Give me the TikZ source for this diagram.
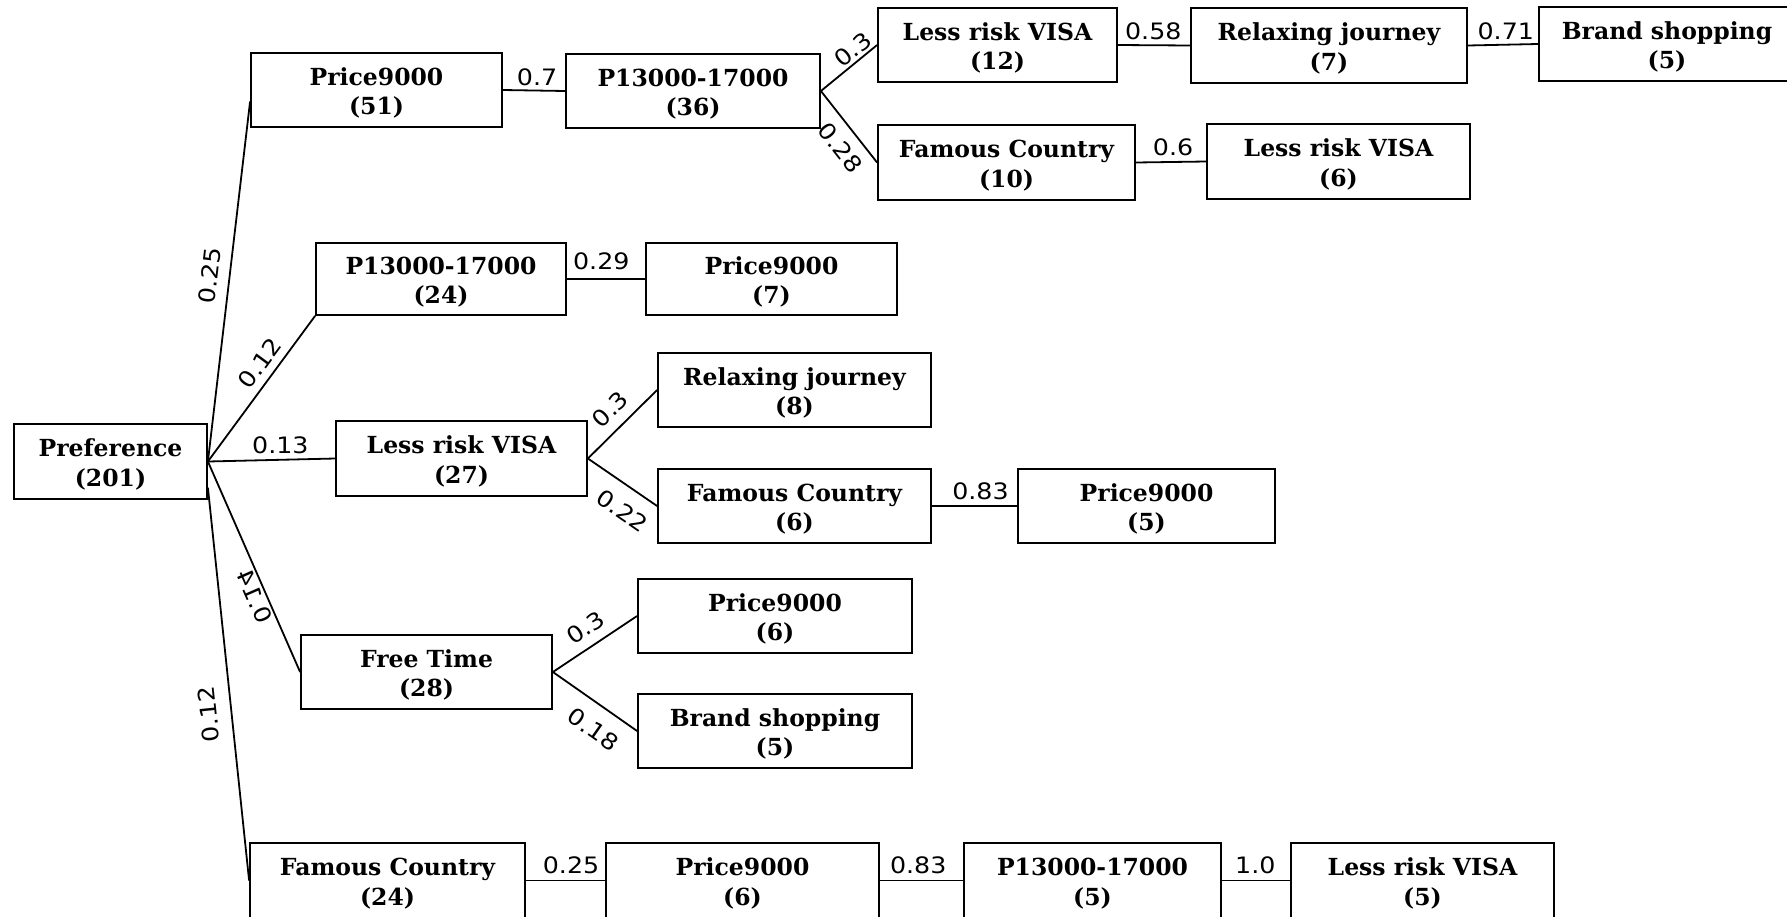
\documentclass[tikz,border=0pt]{standalone}
\usepackage{fontspec}
\usepackage{graphicx}
\newfontfamily\boxfont{DejaVu Serif}
\newfontfamily\lblfont{DejaVu Sans}[FakeStretch=1.12]
\usetikzlibrary{calc}
\begin{document}
\begin{tikzpicture}[x=1pt,y=-1pt,
  box/.style={draw, line width=1.8pt, align=center, inner sep=0pt,
    text height=49pt, text depth=0pt,
    font={\boxfont\bfseries\fontsize{23.5}{29.5}\selectfont}},
  conn/.style={line width=1.8pt},
  lbl/.style={font={\lblfont\fontsize{22.6}{24}\selectfont}, inner xsep=1pt, inner ysep=#1},
  lbl/.default=4pt
]
\fill[white] (0,0) rectangle (1787,916);
\useasboundingbox (0,0) rectangle (1787,916);

% boxes
\node[box, minimum width=193pt, minimum height=75pt] (pref) at (110.5,461.5) {Preference\\(201)};
\node[box, minimum width=251pt, minimum height=74pt] (p51) at (376.5,90) {Price9000\\(51)};
\node[box, minimum width=254pt, minimum height=74pt] (p36) at (693,91) {P13000-17000\\(36)};
\node[box, minimum width=239pt, minimum height=74pt] (v12) at (997.5,45) {Less risk VISA\\(12)};
\node[box, minimum width=276pt, minimum height=75pt] (r7) at (1329,45.5) {Relaxing journey\\(7)};
\node[box, minimum width=256pt, minimum height=74pt] (b5t) at (1667,44) {Brand shopping\\(5)};
\node[box, minimum width=257pt, minimum height=75pt] (fc10) at (1006.5,162.5) {Famous Country\\(10)};
\node[box, minimum width=263pt, minimum height=75pt] (v6) at (1338.5,161.5) {Less risk VISA\\(6)};
\node[box, minimum width=250pt, minimum height=72pt] (p24) at (441,279) {P13000-17000\\(24)};
\node[box, minimum width=251pt, minimum height=72pt] (p7) at (771.5,279) {Price9000\\(7)};
\node[box, minimum width=273pt, minimum height=74pt] (r8) at (794.5,390) {Relaxing journey\\(8)};
\node[box, minimum width=251pt, minimum height=75pt] (v27) at (461.5,458.5) {Less risk VISA\\(27)};
\node[box, minimum width=273pt, minimum height=74pt] (fc6) at (794.5,506) {Famous Country\\(6)};
\node[box, minimum width=257pt, minimum height=74pt] (p5) at (1146.5,506) {Price9000\\(5)};
\node[box, minimum width=251pt, minimum height=74pt] (ft) at (426.5,672) {Free Time\\(28)};
\node[box, minimum width=274pt, minimum height=74pt] (p6a) at (775,616) {Price9000\\(6)};
\node[box, minimum width=274pt, minimum height=74pt] (b5) at (775,731) {Brand shopping\\(5)};
\node[box, minimum width=275pt, minimum height=75pt] (fc24) at (387.5,880.5) {Famous Country\\(24)};
\node[box, minimum width=273pt, minimum height=75pt] (p6b) at (742.5,880.5) {Price9000\\(6)};
\node[box, minimum width=257pt, minimum height=75pt] (p5b) at (1092.5,880.5) {P13000-17000\\(5)};
\node[box, minimum width=263pt, minimum height=75pt] (v5) at (1422.5,880.5) {Less risk VISA\\(5)};

% connectors from the root
\draw[conn] (pref.east) -- node[lbl=10.3pt, pos=0.51, sloped, above] {0.25}
  ($(p51.north west)!0.65!(p51.south west)$);
\draw[conn] (pref.east) -- node[lbl=7pt, pos=0.61, sloped, above] {0.12} (p24.south west);
\draw[conn] (pref.east) -- node[lbl=5pt, pos=0.57, above] {0.13} (v27.west);
\draw[conn] (ft.west) -- node[lbl=2pt, pos=0.38, sloped, above, allow upside down] {\scalebox{1}[-1]{0.14}} (pref.east);
\draw[conn] (fc24.west) -- node[lbl=13.5pt, pos=0.43, sloped, above, allow upside down] {0.12} (pref.-15);

% upper branch
\draw[conn] (p51.east) -- node[lbl=3.5pt, pos=0.55, above] {0.7} (p36.west);
\draw[conn] (p36.east) -- node[lbl=2.5pt, pos=0.70, sloped, above] {0.3} (v12.west);
\draw[conn] (p36.east) -- node[lbl=10.3pt, pos=0.62, sloped, below] {0.28} (fc10.west);
\draw[conn] (v12.east) -- node[lbl=5pt, pos=0.49, above] {0.58} (r7.west);
\draw[conn] (r7.east) -- node[lbl=4.3pt, pos=0.54, above] {0.71} (b5t.west);
\draw[conn] (fc10.east) -- node[lbl=4.8pt, pos=0.53, above] {0.6} (v6.west);

% second branch
\draw[conn] (p24.east) -- node[lbl=8.5pt, pos=0.44, above] {0.29} (p7.west);

% third branch
\draw[conn] (v27.east) -- node[lbl=10pt, pos=0.52, sloped, above] {0.3} (r8.west);
\draw[conn] (v27.east) -- node[lbl=14.2pt, pos=0.69, sloped, below] {0.22} (fc6.west);
\draw[conn] (fc6.east) -- node[lbl=5.6pt, pos=0.57, above] {0.83} (p5.west);

% fourth branch
\draw[conn] (ft.east) -- node[lbl=9.4pt, pos=0.51, sloped, above] {0.3} (p6a.west);
\draw[conn] (ft.east) -- node[lbl=14.5pt, pos=0.64, sloped, below] {0.18} (b5.west);

% bottom branch
\draw[conn] (fc24.east) -- node[lbl=5.3pt, pos=0.57, above] {0.25} (p6b.west);
\draw[conn] (p6b.east) -- node[lbl=5.3pt, pos=0.46, above] {0.83} (p5b.west);
\draw[conn] (p5b.east) -- node[lbl=5.3pt, pos=0.49, above] {1.0} (v5.west);
\end{tikzpicture}
\end{document}
